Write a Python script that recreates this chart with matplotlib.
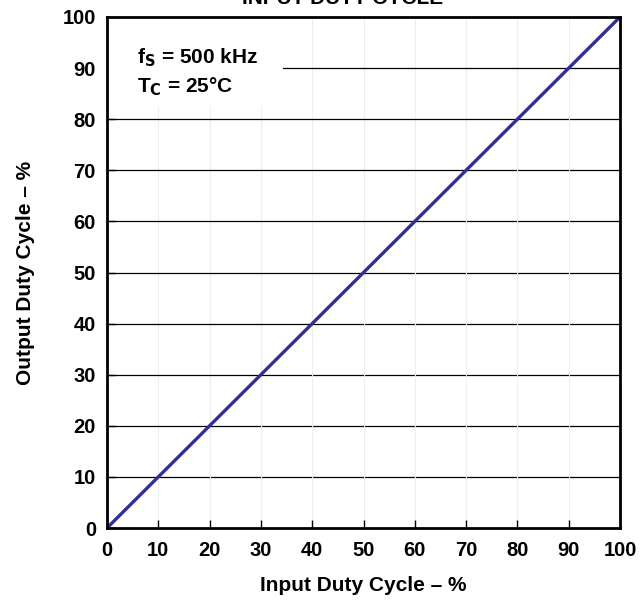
import matplotlib
matplotlib.use("Agg")
import matplotlib.pyplot as plt
from matplotlib.patches import Rectangle

plt.rcParams['font.family'] = ['Liberation Sans', 'DejaVu Sans']
plt.rcParams['font.weight'] = 'bold'

# data
input_duty = [0, 10, 20, 30, 40, 50, 60, 70, 80, 90, 100]
output_duty = [0, 10, 20, 30, 40, 50, 60, 70, 80, 90, 100]
ticks = [0, 10, 20, 30, 40, 50, 60, 70, 80, 90, 100]

fig = plt.figure(figsize=(6.41, 6.01), dpi=100)
ax = fig.add_axes([107 / 641, 1 - 528 / 601, (620 - 107) / 641, (528 - 17) / 601])

ax.set_xlim(0, 100)
ax.set_ylim(0, 100)
ax.set_xticks(ticks)
ax.set_yticks(ticks)

# grid: faint vertical, black horizontal
for t in ticks[1:-1]:
    ax.axvline(t, color='#eeeeee', lw=0.8, zorder=1)
    ax.axhline(t, color='black', lw=0.9, zorder=1)

ax.plot(input_duty, output_duty, color='#2e3192', lw=2.4, zorder=3)

# white box behind the conditions text
ax.add_patch(Rectangle((0, 82.5), 34.3, 17.5, facecolor='white', edgecolor='none', zorder=2))
ax.text(5.8, 92.0, r'f$_\mathbf{S}$ = 500 kHz', fontsize=15, fontweight='bold', va='center', zorder=4)
ax.text(5.8, 86.3, r'T$_\mathbf{C}$ = 25°C', fontsize=15, fontweight='bold', va='center', zorder=4)

for s in ax.spines.values():
    s.set_linewidth(2)
    s.set_zorder(5)

ax.tick_params(direction='in', length=6, width=1, labelsize=14.5)
ax.tick_params(axis='x', pad=9)
ax.tick_params(axis='y', pad=8)
for lab in ax.get_xticklabels() + ax.get_yticklabels():
    lab.set_fontweight('bold')

ax.set_xlabel('Input Duty Cycle – %', fontsize=15, fontweight='bold', labelpad=12)
ax.set_ylabel('Output Duty Cycle – %', fontsize=15, fontweight='bold', labelpad=20)

# title line, mostly cut off at the top edge like the reference
fig.text(343 / 641, 1 - 3.5 / 601, 'INPUT DUTY CYCLE', ha='center', va='baseline',
         fontsize=15, fontweight='bold')

fig.savefig('out.png', dpi=100)
